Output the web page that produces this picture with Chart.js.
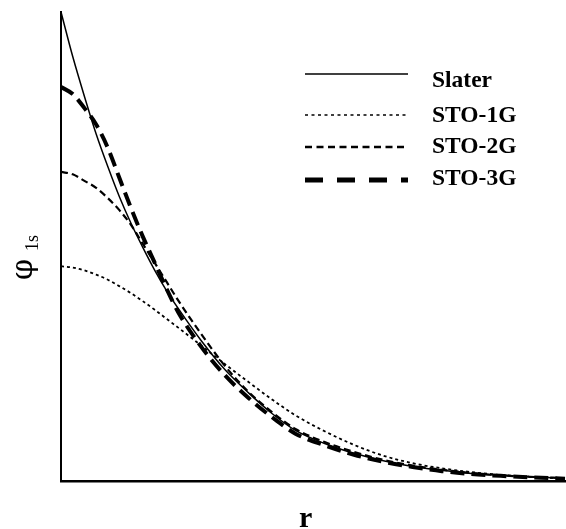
<!DOCTYPE html>
<html>
<head>
<meta charset="utf-8">
<script src="https://cdn.jsdelivr.net/npm/chart.js@4/dist/chart.umd.min.js"></script>
<style>
  html, body { margin: 0; padding: 0; background: #fff; }
  #wrap { width: 566px; height: 529px; }
</style>
</head>
<body>
<div id="wrap"><canvas id="orbitalChart" width="566" height="529"></canvas></div>
<script>
// r values (arbitrary units, no tick labels in the original)
const rValues = [0, 0.1, 0.2, 0.3, 0.4, 0.5, 0.6, 0.7, 0.8, 0.9, 1.0, 1.2, 1.4, 1.6, 1.8, 2.0, 2.25, 2.5, 2.75, 3.0, 3.25, 3.5, 3.75, 4.0, 4.3];

// phi_1s, relative to the Slater value at r = 0
const slater = [1.00, 0.905, 0.82, 0.74, 0.67, 0.605, 0.548, 0.497, 0.449, 0.406, 0.368, 0.298, 0.237, 0.188, 0.144, 0.108, 0.080, 0.059, 0.043, 0.031, 0.023, 0.016, 0.012, 0.009, 0.006];
const sto1g = [0.458, 0.455, 0.449, 0.440, 0.429, 0.415, 0.400, 0.383, 0.365, 0.346, 0.327, 0.288, 0.249, 0.211, 0.174, 0.140, 0.106, 0.077, 0.054, 0.038, 0.027, 0.019, 0.013, 0.009, 0.005];
const sto2g = [0.659, 0.654, 0.64, 0.625, 0.603, 0.577, 0.545, 0.505, 0.465, 0.425, 0.385, 0.312, 0.245, 0.19, 0.147, 0.111, 0.083, 0.062, 0.045, 0.033, 0.024, 0.017, 0.012, 0.009, 0.006];
const sto3g = [0.84, 0.825, 0.795, 0.76, 0.71, 0.645, 0.58, 0.52, 0.465, 0.41, 0.36, 0.285, 0.225, 0.177, 0.136, 0.101, 0.076, 0.056, 0.041, 0.030, 0.021, 0.015, 0.011, 0.008, 0.005];

const seriesNames = ['Slater', 'STO-1G', 'STO-2G', 'STO-3G'];

function toPoints(values) {
    return rValues.map((r, i) => ({ x: r, y: values[i] }));
}

const lineStyles = [
    { width: 1.5, dash: [] },
    { width: 1.8, dash: [3, 3] },
    { width: 2.2, dash: [7, 4] },
    { width: 4, dash: [14, 7] }
];

// the legend sample in the original uses slightly longer strokes
const legendStyles = [
    { width: 1.5, dash: [] },
    { width: 1.6, dash: [3, 3.5] },
    { width: 2.4, dash: [7, 4.5] },
    { width: 5, dash: [18, 14] }
];

// legend + axis titles drawn by hand to sit where the original has them
const annotations = {
    id: 'annotations',
    afterDraw(chart) {
        const ctx = chart.ctx;
        ctx.save();
        ctx.fillStyle = '#000';
        ctx.strokeStyle = '#000';

        const rowsLineY = [74, 115, 147, 180];
        const rowsTextY = [87, 122, 153, 185];
        ctx.font = 'bold 23.5px "Liberation Serif", "Times New Roman", serif';
        ctx.textAlign = 'left';
        ctx.textBaseline = 'alphabetic';
        seriesNames.forEach((name, i) => {
            ctx.lineWidth = legendStyles[i].width;
            ctx.setLineDash(legendStyles[i].dash);
            ctx.beginPath();
            ctx.moveTo(305, rowsLineY[i]);
            ctx.lineTo(408, rowsLineY[i]);
            ctx.stroke();
            ctx.fillText(name, 432, rowsTextY[i]);
        });
        ctx.setLineDash([]);

        // x title
        ctx.font = 'bold 30px "Liberation Serif", "Times New Roman", serif';
        ctx.fillText('r', 299, 527);

        // y title: phi with subscript 1s
        ctx.translate(32, 280);
        ctx.rotate(-Math.PI / 2);
        ctx.font = '30px "DejaVu Serif", "Liberation Serif", serif';
        ctx.fillText('φ', 0, 0);
        ctx.font = '18px "Liberation Serif", "Times New Roman", serif';
        ctx.fillText('1s', 29, 6);
        ctx.restore();
    }
};

new Chart(document.getElementById('orbitalChart').getContext('2d'), {
    type: 'line',
    data: {
        datasets: [slater, sto1g, sto2g, sto3g].map((vals, i) => ({
            label: seriesNames[i],
            data: toPoints(vals),
            borderColor: '#000',
            borderWidth: lineStyles[i].width,
            borderDash: lineStyles[i].dash,
            pointRadius: 0,
            fill: false,
            cubicInterpolationMode: 'monotone',
            clip: false
        }))
    },
    options: {
        responsive: false,
        animation: false,
        layout: {
            padding: { left: 61, top: 12, right: 1, bottom: 48 }
        },
        plugins: {
            legend: { display: false },
            tooltip: { enabled: false }
        },
        scales: {
            x: {
                type: 'linear',
                min: 0,
                max: 4.3,
                grid: { display: false, drawTicks: false },
                ticks: { display: false },
                border: { display: true, color: '#000', width: 2.5 }
            },
            y: {
                min: 0,
                max: 1,
                grid: { display: false, drawTicks: false },
                ticks: { display: false },
                border: { display: true, color: '#000', width: 2 }
            }
        }
    },
    plugins: [annotations]
});
</script>
</body>
</html>
